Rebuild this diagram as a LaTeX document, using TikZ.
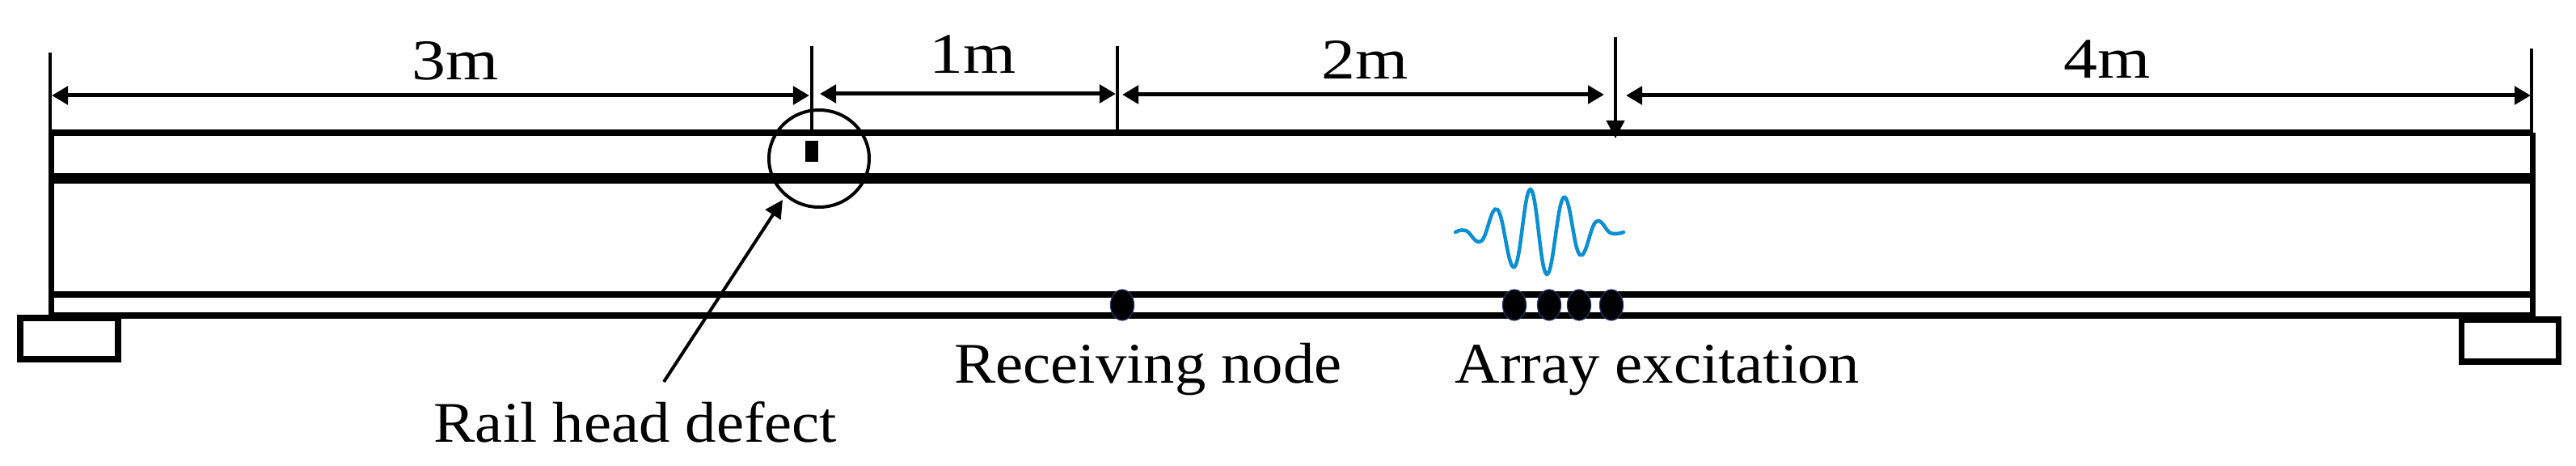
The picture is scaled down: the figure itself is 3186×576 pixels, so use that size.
\documentclass[tikz,border=0pt]{standalone}
\usepackage{fontspec}
\setmainfont{Liberation Serif}
\newfontfamily\widefont[FakeStretch=1.08]{Liberation Serif}
\newfontfamily\lenfont[FakeStretch=1.18]{Liberation Serif}
\usetikzlibrary{arrows.meta}
\tikzset{
   rail/.style={line width=0.075cm},
   railthick/.style={line width=0.13cm},
   tick/.style={line width=0.04cm},
   dim/.style={line width=0.05cm,{Triangle[length=0.2cm,width=0.22cm]}-{Triangle[length=0.2cm,width=0.22cm]}},
   lead/.style={line width=0.04cm,-{Triangle[length=0.22cm,width=0.22cm]}},
   lbl/.style={anchor=base,inner sep=0pt,font=\fontsize{20.2}{24}\selectfont\widefont},
   lbllen/.style={anchor=base,inner sep=0pt,font=\fontsize{20.2}{24}\selectfont\lenfont},
   sensor/.style={fill=black,draw={rgb,255:red,31;green,56;blue,110},line width=0.012cm},
}
\begin{document}
\begin{tikzpicture}[x=0.01cm,y=-0.01cm]
      \useasboundingbox (0,0) rectangle (3186,576);
      \fill [white] (0,0) rectangle (3186,576);
      % rail
      \draw [rail] (63,164)--(3132,164);
      \draw [railthick] (63,220.5)--(3132,220.5);
      \draw [rail] (63,364)--(3132,364);
      \draw [rail] (63,390)--(3132,390);
      \draw [rail] (63.5,164)--(63.5,392);
      \draw [rail] (3132.5,164)--(3132.5,394);
      % supports
      \draw [line width=0.07cm] (25,393) rectangle (146,444);
      \draw [line width=0.07cm] (3044,395) rectangle (3164,447);
      % ticks
      \coordinate (tickA) at (62,65);
      \coordinate (tickB) at (1004,57);
      \coordinate (tickC) at (1382,57);
      \coordinate (tickD) at (1998,46);
      \coordinate (tickE) at (3131,60);
      \draw [tick] (tickA)--(62,164);
      \draw [tick] (tickB)--(1004,164);
      \draw [tick] (tickC)--(1382,164);
      \draw [lead] (tickD)--(1998,171);
      \draw [tick] (tickE)--(3131,164);
      % spans
      \coordinate (spanAl) at (64,118);
      \coordinate (spanAr) at (1001,118);
      \coordinate (spanBl) at (1014,116);
      \coordinate (spanBr) at (1380,116);
      \coordinate (spanCl) at (1388,117);
      \coordinate (spanCr) at (1984,117);
      \coordinate (spanDl) at (2011,118);
      \coordinate (spanDr) at (3130,118);
      \draw [dim] (spanAl)--(spanAr);
      \draw [dim] (spanBl)--(spanBr);
      \draw [dim] (spanCl)--(spanCr);
      \draw [dim] (spanDl)--(spanDr);
      \node (lenA) [lbllen] at (563,99) {3m};
      \node (lenB) [lbllen] at (1203,91) {1m};
      \node (lenC) [lbllen] at (1688,98) {2m};
      \node (lenD) [lbllen] at (2606,97) {4m};
      % defect
      \fill (996,174) rectangle (1012,200);
      \draw [line width=0.04cm] (1013,196) ellipse [x radius=62,y radius=60];
      \coordinate (defectTail) at (821,472);
      \coordinate (defectTip) at (968,247);
      \draw [lead] (defectTail)--(defectTip);
      \node (defectLbl) [lbl] at (786,546) {Rail head defect};
      % nodes on the foot
      \foreach \x in {1388,1873,1916,1953,1993}
         \draw [sensor] (\x,377) ellipse [x radius=14.5,y radius=19];
      \node (recvLbl) [lbl] at (1420,474) {Receiving node};
      \node (arrayLbl) [lbl] at (2050,474) {Array excitation};
      % burst
      \draw [line width=0.045cm,color={rgb,255:red,10;green,143;blue,208},line cap=round]
         plot [smooth,tension=0.7] coordinates {(1800,287) (1813,285) (1832,298) (1852,259) (1873,330) (1893,234) (1913,339) (1934,244) (1954,315) (1974,274) (1992,288) (2008,287)};
   \end{tikzpicture}
\end{document}
